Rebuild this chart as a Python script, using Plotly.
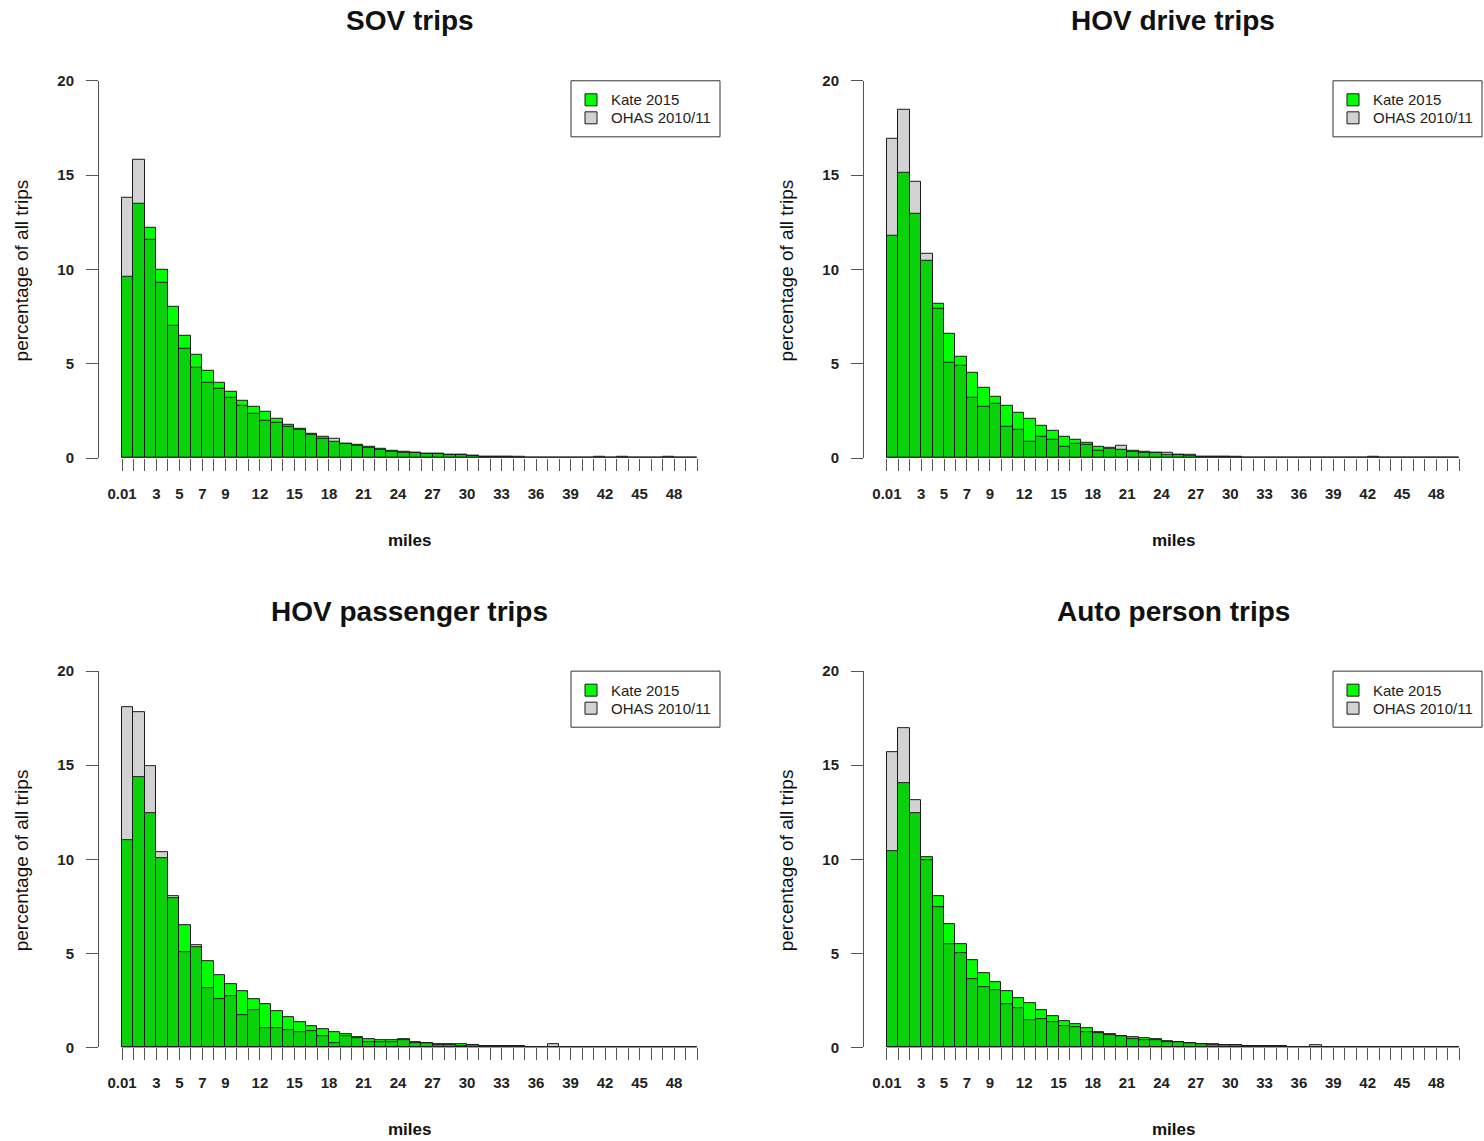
import plotly.graph_objects as go

# ---------------- data ----------------
breaks = [0.01] + list(range(1, 51))          # histogram bin edges (miles)
tick_labels = ["0.01", "", "", "3", "", "5", "", "7", "", "9", "", "", "12", "", "", "15",
               "", "", "18", "", "", "21", "", "", "24", "", "", "27", "", "", "30", "",
               "", "33", "", "", "36", "", "", "39", "", "", "42", "", "", "45", "", "",
               "48", "", ""]
y_ticks = [0, 5, 10, 15, 20]

panel_titles = ["SOV trips", "HOV drive trips", "HOV passenger trips", "Auto person trips"]
series_names = ["Kate 2015", "OHAS 2010/11"]

sov_kate = [9.6, 13.5, 12.2, 10.0, 8.0, 6.5, 5.45, 4.63, 3.98, 3.52, 3.04, 2.70, 2.44, 2.10,
            1.75, 1.55, 1.31, 1.10, 0.88, 0.78, 0.71, 0.57, 0.49, 0.38, 0.34, 0.28, 0.23, 0.20,
            0.16, 0.15, 0.10, 0.08, 0.07, 0.04, 0.03, 0.02, 0.02, 0.01, 0.01, 0.01, 0.01, 0.01,
            0.01, 0.01, 0.01, 0.01, 0.01, 0.01, 0.01, 0.01]
sov_ohas = [13.8, 15.8, 11.55, 9.3, 7.0, 5.8, 4.77, 3.98, 3.66, 3.18, 2.77, 2.33, 1.96, 1.86,
            1.63, 1.50, 1.24, 1.04, 1.02, 0.76, 0.65, 0.55, 0.45, 0.35, 0.30, 0.26, 0.22, 0.21,
            0.17, 0.16, 0.10, 0.09, 0.08, 0.04, 0.04, 0.03, 0.03, 0.02, 0.02, 0.02, 0.01, 0.06,
            0.01, 0.05, 0.01, 0.01, 0.01, 0.05, 0.01, 0.01]

hovd_kate = [11.8, 15.1, 12.95, 10.48, 8.2, 6.59, 5.39, 4.51, 3.71, 3.25, 2.79, 2.39, 2.10, 1.70,
             1.43, 1.15, 0.95, 0.83, 0.62, 0.50, 0.42, 0.36, 0.34, 0.28, 0.19, 0.19, 0.12, 0.06,
             0.06, 0.05, 0.07, 0.02, 0.02, 0.01, 0.01, 0.01, 0.01, 0.01, 0.01, 0.01, 0.01, 0.01,
             0.01, 0.01, 0.01, 0.01, 0.01, 0.01, 0.01, 0.01]
hovd_ohas = [16.9, 18.45, 14.63, 10.83, 7.92, 5.04, 4.91, 3.18, 2.70, 2.88, 1.68, 1.50, 0.88, 1.15,
             0.97, 0.57, 0.78, 0.71, 0.41, 0.55, 0.64, 0.34, 0.30, 0.26, 0.28, 0.17, 0.16, 0.07,
             0.07, 0.06, 0.03, 0.02, 0.02, 0.01, 0.01, 0.01, 0.02, 0.03, 0.01, 0.01, 0.01, 0.01,
             0.06, 0.01, 0.01, 0.01, 0.01, 0.01, 0.01, 0.01]

hovp_kate = [11.04, 14.35, 12.47, 10.08, 7.95, 6.48, 5.35, 4.59, 3.86, 3.38, 2.98, 2.55, 2.32, 1.90,
             1.61, 1.36, 1.13, 0.96, 0.83, 0.69, 0.52, 0.46, 0.40, 0.39, 0.40, 0.30, 0.21, 0.18,
             0.18, 0.18, 0.12, 0.07, 0.07, 0.06, 0.06, 0.02, 0.02, 0.03, 0.01, 0.01, 0.01, 0.01,
             0.01, 0.01, 0.01, 0.01, 0.01, 0.01, 0.01, 0.01]
hovp_ohas = [18.09, 17.82, 14.93, 10.38, 8.05, 5.08, 5.45, 3.17, 2.57, 2.75, 1.72, 1.98, 1.03, 1.03,
             0.92, 0.80, 0.85, 0.62, 0.25, 0.62, 0.48, 0.27, 0.30, 0.30, 0.42, 0.21, 0.21, 0.12,
             0.12, 0.08, 0.10, 0.07, 0.07, 0.07, 0.06, 0.02, 0.02, 0.18, 0.02, 0.01, 0.01, 0.01,
             0.01, 0.01, 0.01, 0.01, 0.01, 0.01, 0.01, 0.01]

auto_kate = [10.43, 14.05, 12.47, 10.1, 8.04, 6.55, 5.47, 4.64, 3.93, 3.47, 2.98, 2.62, 2.37, 1.97,
             1.68, 1.42, 1.24, 1.03, 0.83, 0.71, 0.62, 0.57, 0.48, 0.42, 0.35, 0.30, 0.21, 0.18,
             0.14, 0.14, 0.12, 0.07, 0.07, 0.07, 0.06, 0.02, 0.02, 0.03, 0.01, 0.01, 0.01, 0.01,
             0.01, 0.01, 0.01, 0.01, 0.01, 0.01, 0.01, 0.01]
auto_ohas = [15.68, 16.95, 13.14, 9.94, 7.44, 5.47, 5.01, 3.61, 3.19, 3.03, 2.29, 2.07, 1.47, 1.49,
             1.33, 1.15, 1.10, 0.80, 0.78, 0.64, 0.60, 0.45, 0.39, 0.36, 0.30, 0.28, 0.21, 0.17,
             0.15, 0.14, 0.12, 0.07, 0.07, 0.07, 0.07, 0.02, 0.02, 0.10, 0.02, 0.02, 0.02, 0.02,
             0.02, 0.02, 0.02, 0.02, 0.02, 0.02, 0.02, 0.02]

panels_kate = [sov_kate, hovd_kate, hovp_kate, auto_kate]
panels_ohas = [sov_ohas, hovd_ohas, hovp_ohas, auto_ohas]

# ---------------- layout geometry ----------------
W, H = 1484, 1141
FONT = "Liberation Sans, Arial, Helvetica, sans-serif"
GREEN = "#00FF00"
GREY = "rgba(46,46,46,0.216)"
EDGE = "#1a1a1a"
AXC = "#555555"

# plot regions in target pixels: (left, right, top, bottom)
regions = [(99, 720, 81, 458), (864, 1482, 81, 458),
           (99, 720, 671, 1047), (864, 1482, 671, 1047)]

mids = [(breaks[i] + breaks[i + 1]) / 2 for i in range(len(breaks) - 1)]
widths = [breaks[i + 1] - breaks[i] for i in range(len(breaks) - 1)]

# vertical correction for the capture (observed = 0.9845 * layout + 9.25)
VA, VB = 0.9845, 9.25


def px(xp):
    return xp / W


def py(yp):
    return 1 - ((yp - VB) / VA) / H


fig = go.Figure()
annotations = []
shapes = []
layout_axes = {}

for p in range(4):
    l, r, t, b = regions[p]
    sfx = "" if p == 0 else str(p + 1)
    xa, ya = "x" + sfx, "y" + sfx
    fig.add_trace(go.Bar(x=mids, y=panels_kate[p], width=widths, name=series_names[0],
                         marker=dict(color=GREEN, line=dict(color=EDGE, width=1)),
                         xaxis=xa, yaxis=ya, showlegend=False, hoverinfo="x+y"))
    fig.add_trace(go.Bar(x=mids, y=panels_ohas[p], width=widths, name=series_names[1],
                         marker=dict(color=GREY, line=dict(color=EDGE, width=1)),
                         xaxis=xa, yaxis=ya, showlegend=False, hoverinfo="x+y"))

    dx = [px(l), px(r)]
    dy = [py(b), py(t)]
    layout_axes["xaxis" + sfx] = dict(
        domain=dx, anchor=ya, range=[-1.99, 51.99], showgrid=False, zeroline=False,
        showline=False, ticks="outside", ticklen=12, tickwidth=1, tickcolor=AXC,
        tickmode="array", tickvals=breaks, ticktext=tick_labels, tickangle=0,
        tickfont=dict(family=FONT, size=15, color="#222", weight="bold"),
        ticklabelstandoff=10)
    layout_axes["yaxis" + sfx] = dict(
        domain=dy, anchor=xa, range=[0, 20], showgrid=False, zeroline=False,
        showline=True, linecolor=AXC, linewidth=1, ticks="outside", ticklen=12,
        tickwidth=1, tickcolor=AXC, tickmode="array", tickvals=y_ticks,
        tickfont=dict(family=FONT, size=15, color="#222", weight="bold"),
        ticklabelstandoff=9)

    # x axis line between first and last break (R style)
    shapes.append(dict(type="line", xref=xa, yref=ya, x0=breaks[0], x1=breaks[-1],
                       y0=0, y1=0, line=dict(color=AXC, width=1)))

    # legend box (top-right of plot region)
    lx0, lx1, ly0, ly1 = r - 149, r, t, t + 56
    shapes.append(dict(type="rect", xref="paper", yref="paper", x0=px(lx0), x1=px(lx1),
                       y0=py(ly1), y1=py(ly0), line=dict(color="#333", width=1),
                       fillcolor="white", layer="above"))
    for k, (nm, col) in enumerate(zip(series_names, [GREEN, GREY])):
        cy = ly0 + 19 + 18 * k
        shapes.append(dict(type="rect", xref="paper", yref="paper",
                           x0=px(lx0 + 14), x1=px(lx0 + 26), y0=py(cy + 6), y1=py(cy - 6),
                           line=dict(color=EDGE, width=1), fillcolor=col, layer="above"))
        annotations.append(dict(text=nm, x=px(lx0 + 38), y=py(cy), xref="paper", yref="paper",
                                showarrow=False, xanchor="left", yanchor="middle",
                                font=dict(family=FONT, size=15, color="#222")))

    cx = px((l + r) / 2)
    annotations.append(dict(text="<b>" + panel_titles[p] + "</b>", x=cx, y=py(t - 60),
                            xref="paper", yref="paper", showarrow=False, xanchor="center",
                            yanchor="middle", font=dict(family=FONT, size=28, color="#111")))
    annotations.append(dict(text="<b>miles</b>", x=cx, y=py(b + 82),
                            xref="paper", yref="paper", showarrow=False, xanchor="center",
                            yanchor="middle", font=dict(family=FONT, size=17, color="#111")))
    annotations.append(dict(text="percentage of all trips", x=px(l - 78), y=py((t + b) / 2 + 1),
                            xref="paper", yref="paper", showarrow=False, xanchor="center",
                            yanchor="middle", textangle=-90,
                            font=dict(family=FONT, size=19, color="#111")))

fig.update_layout(
    width=W, height=H, margin=dict(l=0, r=0, t=0, b=0),
    paper_bgcolor="white", plot_bgcolor="white",
    barmode="overlay", bargap=0, showlegend=False,
    annotations=annotations, shapes=shapes,
    font=dict(family=FONT, color="#222"),
    **layout_axes)

fig.write_html("out.html", post_script="document.body.style.margin='0px';")
